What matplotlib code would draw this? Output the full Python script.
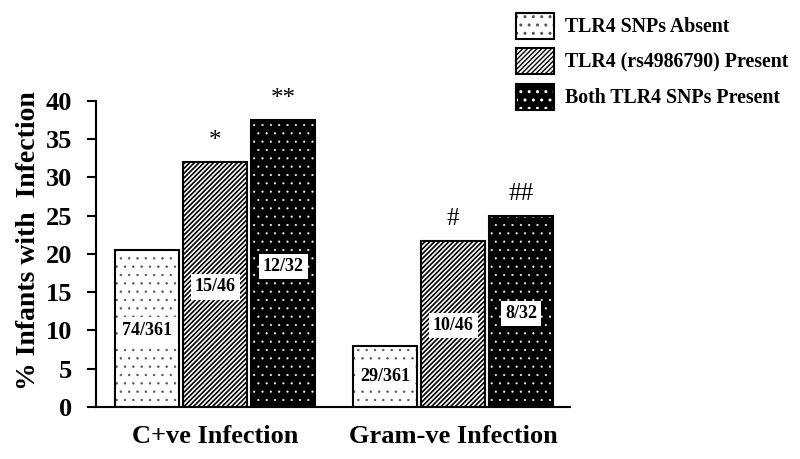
import numpy as np
import matplotlib
matplotlib.use('Agg')
import matplotlib.pyplot as plt

plt.rcParams['font.family'] = ['Liberation Serif', 'DejaVu Serif']
plt.rcParams['font.weight'] = 'bold'

# данные
groups = ['C+ve Infection', 'Gram-ve Infection']
series = ['TLR4 SNPs Absent', 'TLR4 (rs4986790) Present', 'Both TLR4 SNPs Present']
values = [[20.5, 32.0, 37.5],
          [8.0, 21.7, 25.0]]
counts = [['74/361', '15/46', '12/32'],
          ['29/361', '10/46', '8/32']]
marks = [['', '*', '**'],
         ['', '#', '##']]

fig = plt.figure(figsize=(8, 4.59), dpi=100)
ax = fig.add_axes([0.12, 0.1133, 0.5925, 0.667])

width = 0.94
group_pos = np.array([0.0, 3.5])
offsets = [-1, 0, 1]

handles = []
for j in range(3):
    xs = group_pos + offsets[j]
    hs = [values[g][j] for g in range(2)]
    if j == 0:
        with plt.rc_context({'hatch.linewidth': 0.5}):
            b = ax.bar(xs, hs, width, color='white', edgecolor='#555555', hatch='..', linewidth=0)
        e = ax.bar(xs, hs, width, fill=False, edgecolor='black', linewidth=1.5)
        handles.append((b, e))
    elif j == 1:
        with plt.rc_context({'hatch.linewidth': 1.2}):
            b = ax.bar(xs, hs, width, color='white', edgecolor='black', hatch='///////', linewidth=1.5)
        handles.append(b)
    else:
        # белые точки на чёрном фоне
        with plt.rc_context({'hatch.linewidth': 0.3}):
            b = ax.bar(xs, hs, width, color='black', edgecolor='white', hatch='..', linewidth=0)
        e = ax.bar(xs, hs, width, fill=False, edgecolor='black', linewidth=1.5)
        handles.append((b, e))
    for g in range(2):
        ax.text(xs[g], hs[g] * 0.49, counts[g][j], ha='center', va='center',
                fontsize=13, fontweight='bold',
                bbox=dict(facecolor='white', edgecolor='none', pad=3))
        if marks[g][j]:
            ax.text(xs[g], hs[g] + 2.8, marks[g][j], ha='center', va='center',
                    fontsize=18, fontweight='normal', clip_on=False)

ax.set_xlim(-1.757, 5.22)
ax.set_ylim(0, 40)
ax.set_yticks(np.arange(0, 41, 5))
ax.tick_params(axis='y', direction='out', length=6.5, width=1.5, labelsize=19, pad=10.5)
for lab in ax.get_yticklabels():
    lab.set_fontweight('bold')
ax.set_xticks(group_pos)
ax.set_xticklabels(groups, fontsize=19, fontweight='bold')
ax.tick_params(axis='x', length=0, pad=13)
ax.spines['top'].set_visible(False)
ax.spines['right'].set_visible(False)
ax.spines['left'].set_linewidth(1.5)
ax.spines['bottom'].set_linewidth(1.5)
ax.set_ylabel('% Infants with  Infection', fontsize=20, fontweight='bold')
ax.yaxis.set_label_coords(-0.116, 0.545)

leg = fig.legend(handles, series, loc='upper left',
                 bbox_to_anchor=(0.623, 1.011), frameon=False,
                 handlelength=1.9, handleheight=1.63, labelspacing=0.48,
                 handletextpad=0.55, prop={'weight': 'bold', 'size': 14.3})

fig.savefig('out.png', dpi=100)
